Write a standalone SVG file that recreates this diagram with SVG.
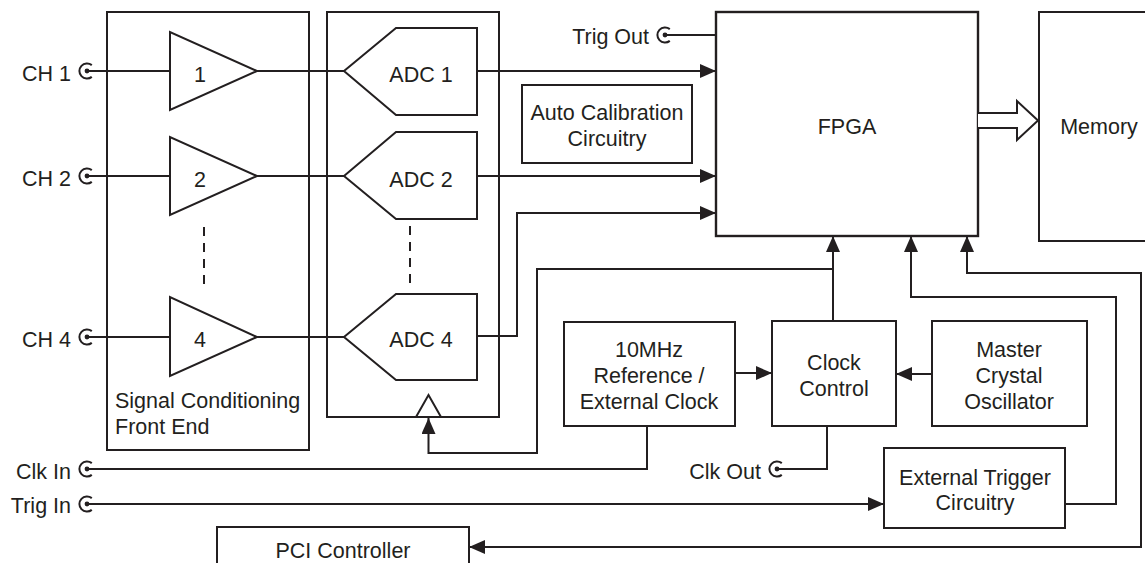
<svg xmlns="http://www.w3.org/2000/svg" xmlns:xlink="http://www.w3.org/1999/xlink" width="1145" height="563" viewBox="0 0 1145 563">
<style>
  .box { fill: #fff; stroke: #231f20; stroke-width: 2; }
  .ln { fill: none; stroke: #231f20; stroke-width: 2; }
  .dash { fill: none; stroke: #231f20; stroke-width: 2; stroke-dasharray: 9 7; }
  text { font-family: "Liberation Sans", Arial, sans-serif; font-size: 21.5px; fill: #231f20; }
  .c { text-anchor: middle; }
  .r { text-anchor: end; }
</style>
<defs>
  <marker id="arr" markerUnits="userSpaceOnUse" markerWidth="16" markerHeight="14" refX="16" refY="7" orient="auto-start-reverse" viewBox="0 0 16 14">
    <path d="M0,0 L16,7 L0,14 z" fill="#231f20"/>
  </marker>
  <g id="jack">
    <path d="M4.8,-5.9 A7.6,7.6 0 1 0 4.8,5.9" fill="none" stroke="#231f20" stroke-width="2"/>
    <circle cx="0" cy="0" r="2.4" fill="#231f20"/>
  </g>
</defs>
<rect width="1145" height="563" fill="#fff"/>

<g id="front-end">
  <rect class="box" x="107" y="12" width="202" height="438"/>
  <text x="115" y="408">Signal Conditioning</text>
  <text x="115" y="434">Front End</text>
</g>
<g id="adc-block">
  <rect class="box" x="327" y="12" width="172" height="405"/>
  <polygon class="box" points="416,417 441,417 428.5,395"/>
</g>
<g id="amp1">
  <polygon class="box" points="170,32 170,110 257,71"/>
  <text class="c" x="200" y="82">1</text>
</g>
<g id="amp2">
  <polygon class="box" points="170,137 170,215 257,176"/>
  <text class="c" x="200" y="187">2</text>
</g>
<g id="amp4">
  <polygon class="box" points="170,297 170,376 257,337"/>
  <text class="c" x="200" y="347">4</text>
</g>
<g id="adc1">
  <polygon class="box" points="344,71 396,28 477,28 477,115 396,115"/>
  <text class="c" x="421" y="82">ADC 1</text>
</g>
<g id="adc2">
  <polygon class="box" points="344,176 396,132 477,132 477,219 396,219"/>
  <text class="c" x="421" y="187">ADC 2</text>
</g>
<g id="adc4">
  <polygon class="box" points="344,337 396,294 477,294 477,380 396,380"/>
  <text class="c" x="421" y="347">ADC 4</text>
</g>
<g id="auto-cal">
  <rect class="box" x="522" y="85" width="170" height="78"/>
  <text class="c" x="607" y="120">Auto Calibration</text>
  <text class="c" x="607" y="146">Circuitry</text>
</g>
<g id="fpga">
  <rect class="box" x="716" y="12" width="262" height="224" style="stroke-width:2.4"/>
  <text class="c" x="847" y="134">FPGA</text>
</g>
<g id="memory">
  <rect class="box" x="1039" y="12" width="120" height="229"/>
  <text class="c" x="1099" y="134">Memory</text>
</g>
<g id="ref-clock">
  <rect class="box" x="564" y="322" width="171" height="104"/>
  <text class="c" x="649" y="357">10MHz</text>
  <text class="c" x="649" y="383">Reference /</text>
  <text class="c" x="649" y="409">External Clock</text>
</g>
<g id="clock-control">
  <rect class="box" x="772" y="321" width="124" height="105"/>
  <text class="c" x="834" y="370">Clock</text>
  <text class="c" x="834" y="396">Control</text>
</g>
<g id="master-osc">
  <rect class="box" x="932" y="321" width="155" height="105"/>
  <text class="c" x="1009" y="357">Master</text>
  <text class="c" x="1009" y="383">Crystal</text>
  <text class="c" x="1009" y="409">Oscillator</text>
</g>
<g id="ext-trigger">
  <rect class="box" x="884" y="448" width="181" height="80"/>
  <text class="c" x="975" y="485">External Trigger</text>
  <text class="c" x="975" y="510">Circuitry</text>
</g>
<g id="pci">
  <rect class="box" x="217" y="527" width="252" height="50"/>
  <text class="c" x="343" y="558">PCI Controller</text>
</g>

<g id="ports">
  <text class="r" x="71" y="81">CH 1</text>
  <text class="r" x="71" y="186">CH 2</text>
  <text class="r" x="71" y="347">CH 4</text>
  <text class="r" x="71" y="479">Clk In</text>
  <text class="r" x="71" y="513">Trig In</text>
  <text class="r" x="649" y="44">Trig Out</text>
  <text class="r" x="761" y="479">Clk Out</text>
</g>

<g id="connectors">
  <path class="ln" d="M87,71 H170 M257,71 H344"/>
  <path class="ln" d="M87,176 H170 M257,176 H344"/>
  <path class="ln" d="M87,337 H170 M257,337 H344"/>
  <path class="dash" d="M204,227 V287"/>
  <path class="dash" d="M410,226 V287"/>
  <path class="ln" d="M477,71 H716" marker-end="url(#arr)"/>
  <path class="ln" d="M477,176 H716" marker-end="url(#arr)"/>
  <path class="ln" d="M477,336 H517 V213 H716" marker-end="url(#arr)"/>
  <path class="ln" d="M665,35 H716"/>
  <path class="ln" d="M833,321 V236" marker-end="url(#arr)"/>
  <path class="ln" d="M833,269 H537 V453 H428.5 V418" marker-end="url(#arr)"/>
  <path class="ln" d="M735,373 H772" marker-end="url(#arr)"/>
  <path class="ln" d="M932,374 H896" marker-end="url(#arr)"/>
  <path class="ln" d="M87,469 H647 V426"/>
  <path class="ln" d="M777,469 H827 V426"/>
  <path class="ln" d="M87,504 H884" marker-end="url(#arr)"/>
  <path class="ln" d="M1065,504 H1116 V297 H911 V236" marker-end="url(#arr)"/>
  <path class="ln" d="M469,547 H1141 V273 H967 V236" marker-start="url(#arr)" marker-end="url(#arr)"/>
  <path class="box" d="M978,113 H1017 V101 L1038,120.5 L1017,140 V128 H978"/>
  <use xlink:href="#jack" x="87" y="71"/>
  <use xlink:href="#jack" x="87" y="176"/>
  <use xlink:href="#jack" x="87" y="337"/>
  <use xlink:href="#jack" x="87" y="469"/>
  <use xlink:href="#jack" x="87" y="504"/>
  <use xlink:href="#jack" x="665" y="35"/>
  <use xlink:href="#jack" x="777" y="469"/>
</g>
</svg>
